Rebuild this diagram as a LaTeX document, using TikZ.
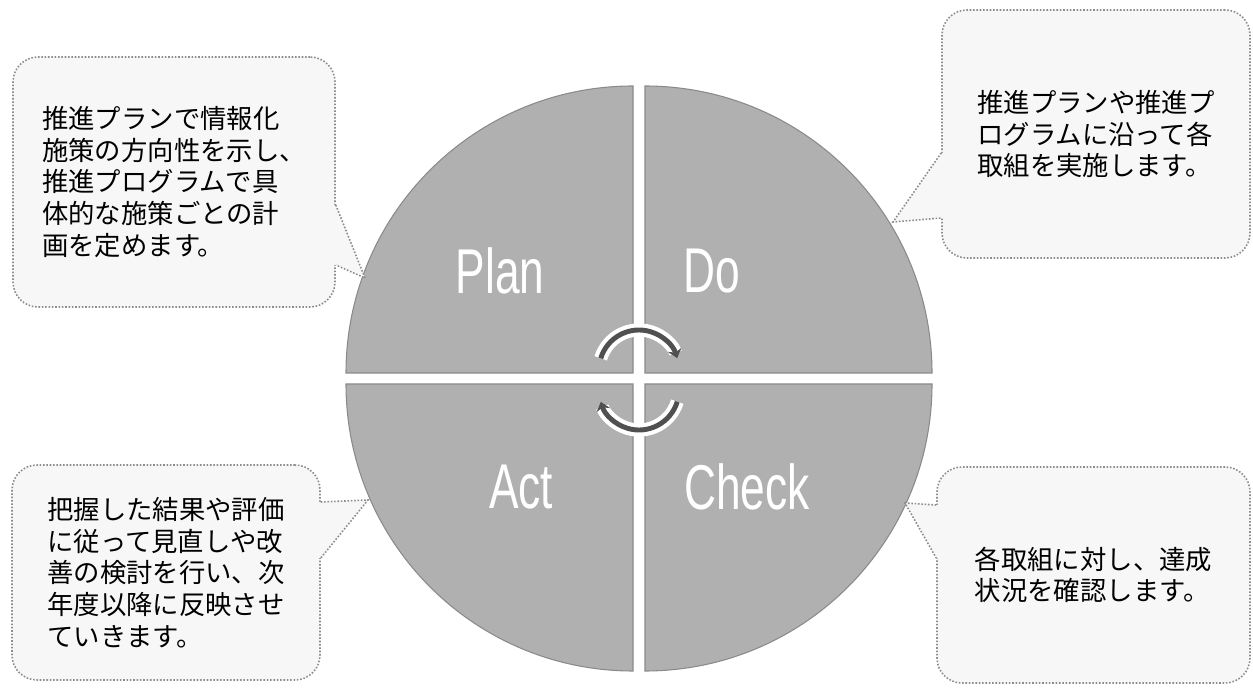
\documentclass[tikz,border=0pt]{standalone}
\usepackage{fontspec}
\usepackage{tikz}
\usetikzlibrary{calc,arrows.meta}
\setsansfont{Liberation Sans}
\newfontfamily\jpfont{Noto Sans CJK JP}
\definecolor{quarter}{RGB}{176,176,176}
\definecolor{quarter_edge}{RGB}{138,138,138}
\definecolor{bubble_fill}{RGB}{247,247,247}
\definecolor{bubble_edge}{RGB}{140,140,140}
\definecolor{loop_gray}{RGB}{80,80,80}
\tikzset{
  bubble/.style = {draw=bubble_edge, densely dotted, line width=0.9pt, fill=bubble_fill,
                   rounded corners=0.5cm, align=left, inner sep=0pt,
                   font=\jpfont\fontsize{15}{18}\selectfont},
  tail/.style   = {draw=bubble_edge, densely dotted, line width=0.9pt},
  phase/.style  = {text=white, font=\sffamily\fontsize{36}{36}\selectfont},
  loop_arc/.style = {draw=loop_gray, line width=2.8pt, -{Stealth[length=5pt,width=8pt]},
                     preaction={draw=white, line width=7.5pt}}
}

\begin{document}
\begin{tikzpicture}
            \fill[white] (0,0) rectangle (25.06,13.74);
            % four quarters of the cycle
            \foreach \cx/\cy/\a in {12.66/6.28/90, 12.90/6.28/0, 12.66/6.06/180, 12.90/6.06/270}
                \draw[fill=quarter, draw=quarter_edge, line width=0.6pt]
                    (\cx,\cy) -- ++(\a:5.74) arc[start angle=\a, delta angle=90, radius=5.74] -- cycle;

            \node[phase] (plan)  at (10.00,8.32) {\scalebox{0.7}[1]{Plan}};
            \node[phase] (do)    at (14.24,8.32) {\scalebox{0.7}[1]{Do}};
            \node[phase] (act)   at (10.42,4.00) {\scalebox{0.7}[1]{Act}};
            \node[phase] (check) at (14.94,4.00) {\scalebox{0.7}[1]{Check}};

            \coordinate (upper) at (12.78,6.34);
            \coordinate (lower) at (12.78,5.94);
            \draw[loop_arc] ($(upper)+(163:0.8)$) arc[start angle=163, end angle=17, radius=0.8];
            \draw[loop_arc] ($(lower)+(-17:0.8)$) arc[start angle=-17, end angle=-163, radius=0.8];

            % notes
            \node[bubble, minimum width=6.44cm, minimum height=5.00cm] (plan_note) at (3.48,10.10)
                {推進プランで情報化\\施策の方向性を示し、\\推進プログラムで具\\体的な施策ごとの計\\画を定めます。};
            \node[bubble, minimum width=6.16cm, minimum height=4.96cm] (do_note) at (21.92,11.06)
                {推進プランや推進プ\\ログラムに沿って各\\取組を実施します。};
            \node[bubble, minimum width=6.16cm, minimum height=4.30cm] (act_note) at (3.32,2.29)
                {把握した結果や評価\\に従って見直しや改\\善の検討を行い、次\\年度以降に反映させ\\ていきます。};
            \node[bubble, minimum width=6.26cm, minimum height=4.32cm] (check_note) at (21.87,2.24)
                {各取組に対し、達成\\状況を確認します。};

            \coordinate (plan_tip)  at (7.30,8.18);
            \coordinate (do_tip)    at (17.86,9.30);
            \coordinate (act_tip)   at (7.36,3.74);
            \coordinate (check_tip) at (18.10,3.68);

            % tails
            \foreach \n/\s/\u/\l/\d in {plan/east/-0.46/-1.66/-0.15, do/west/-0.38/-1.68/0.15,
                                        act/east/1.41/0.29/-0.15, check/west/1.40/0.34/0.15}{
                \fill[bubble_fill] ($(\n_note.\s)+(\d,\u)$) -- ($(\n_note.\s)+(0,\u)$) -- (\n_tip)
                    -- ($(\n_note.\s)+(0,\l)$) -- ($(\n_note.\s)+(\d,\l)$) -- cycle;
                \draw[tail] ($(\n_note.\s)+(0,\u)$) -- (\n_tip) -- ($(\n_note.\s)+(0,\l)$);
            }
        \end{tikzpicture}
\end{document}
